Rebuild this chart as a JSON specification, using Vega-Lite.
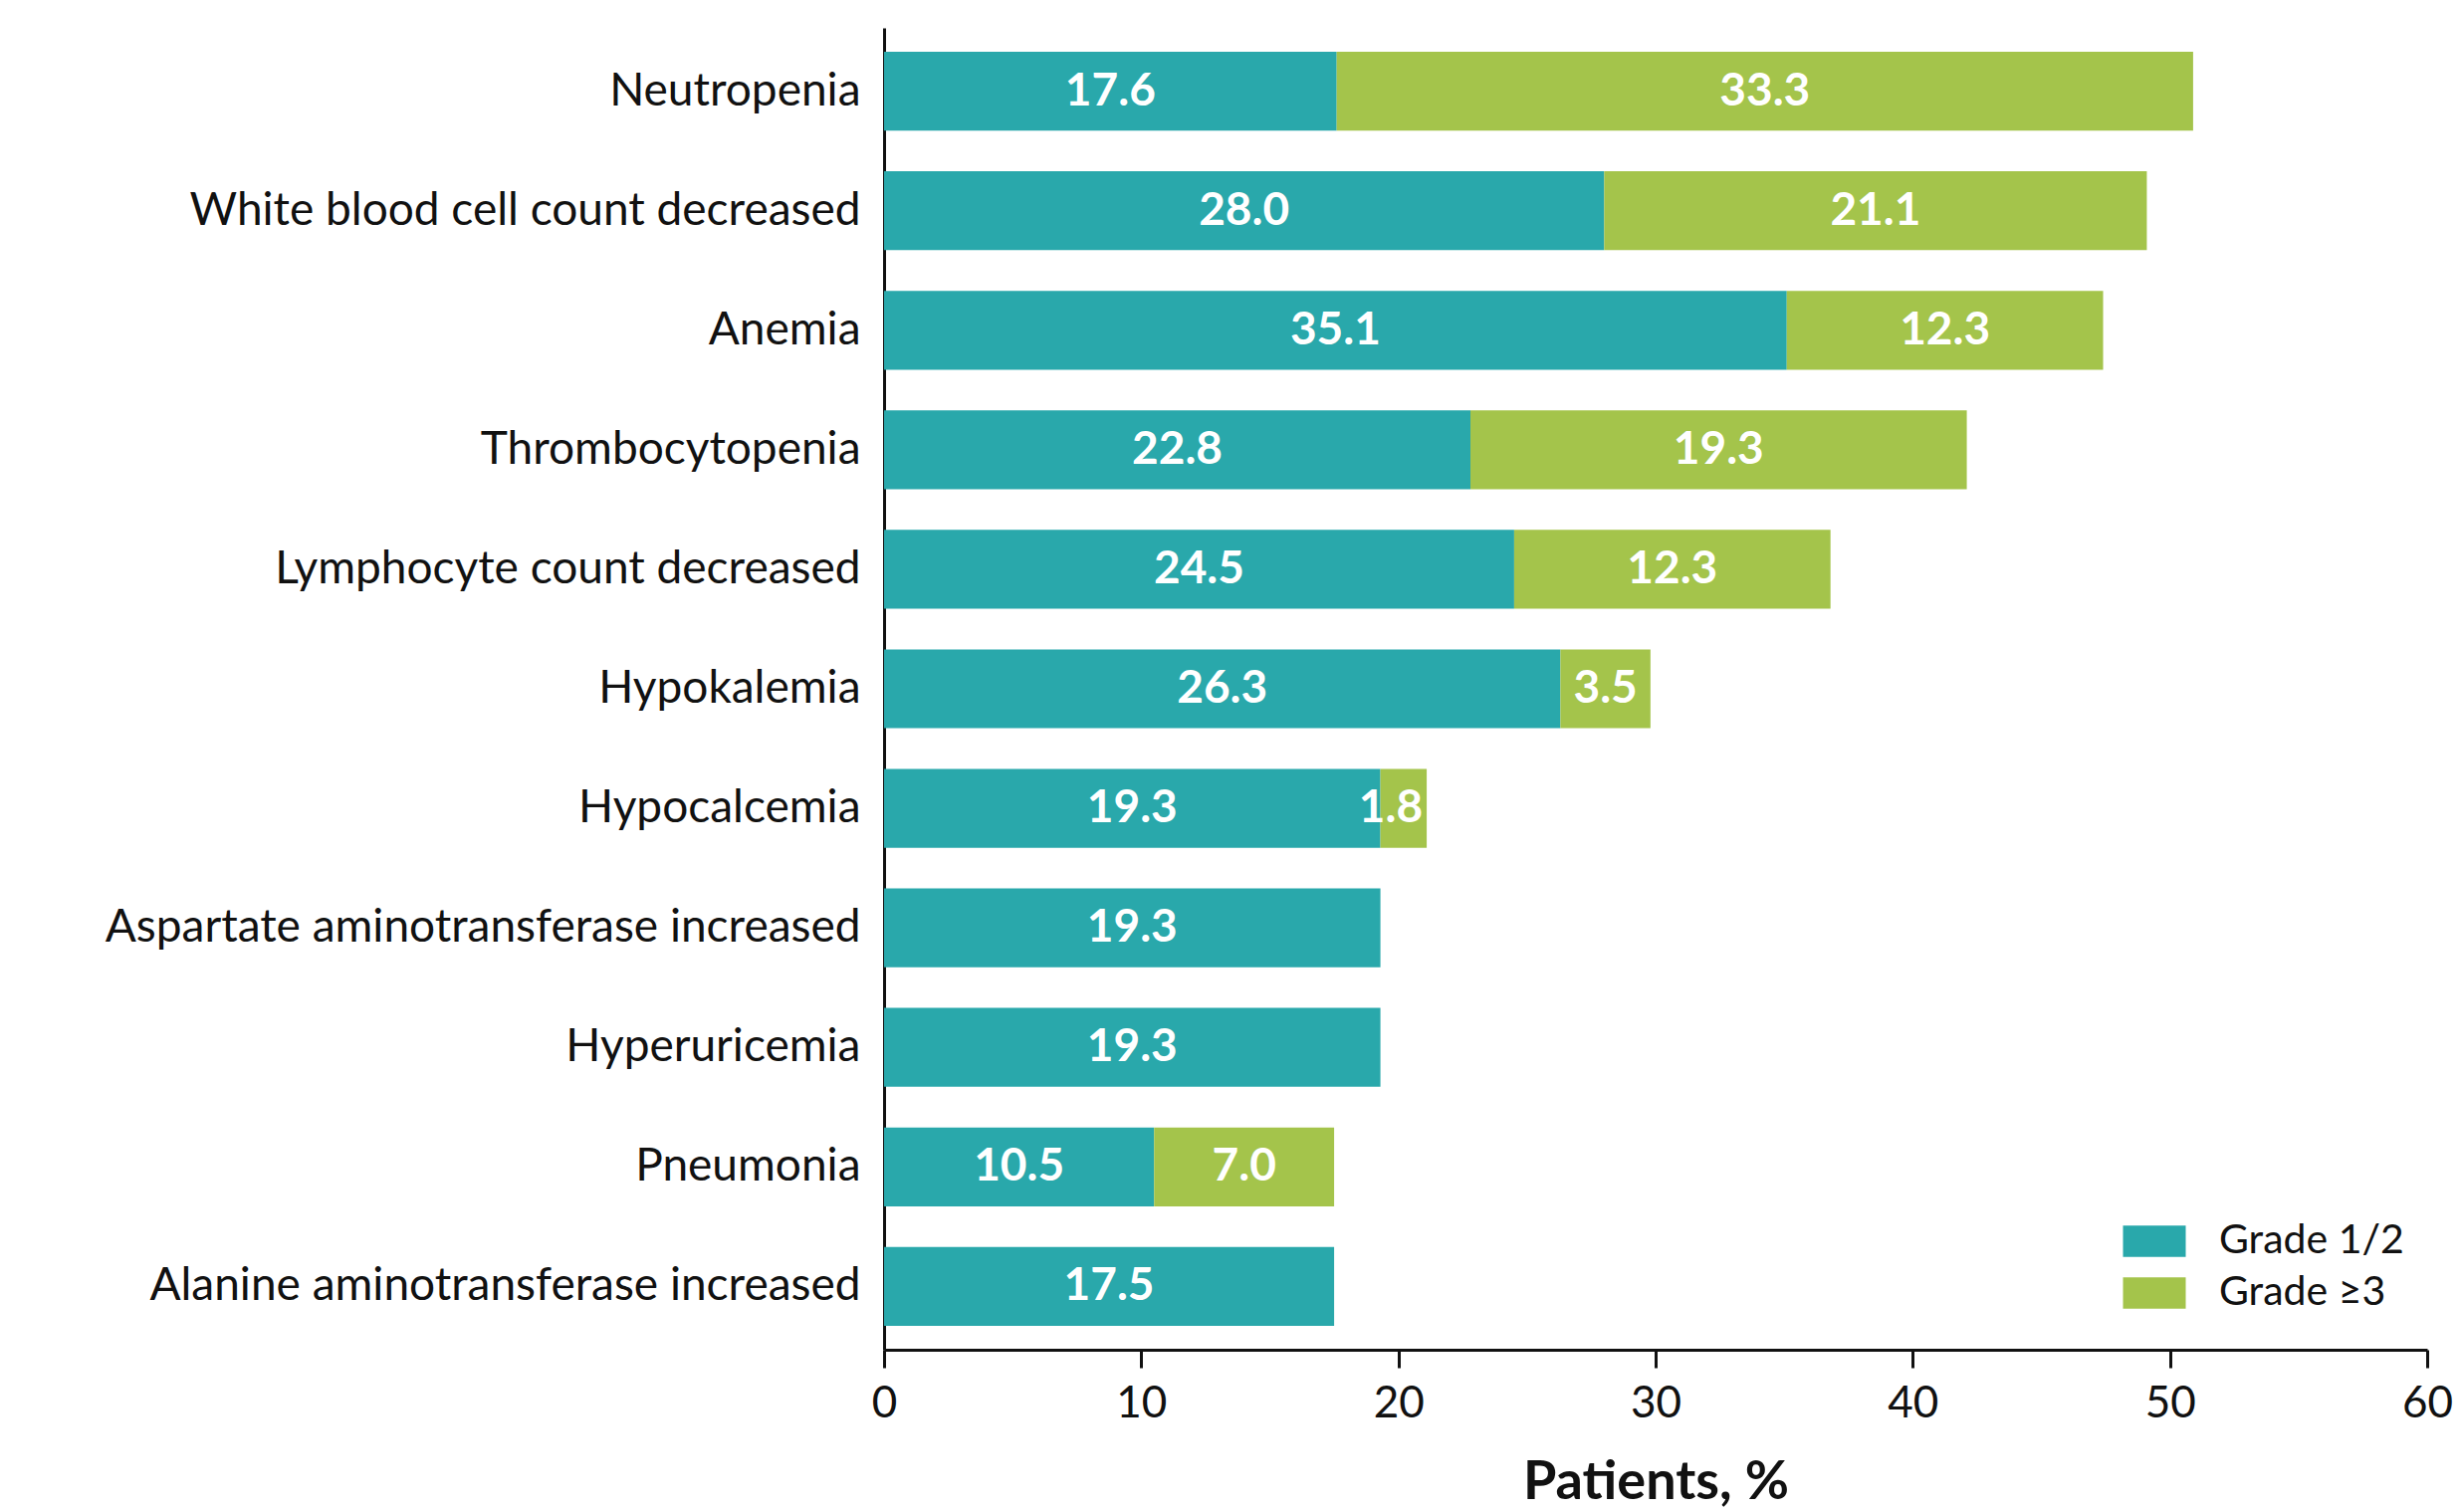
{
  "$schema": "https://vega.github.io/schema/vega-lite/v6.json",
  "autosize": {"type": "none"},
  "padding": {"left": 888, "top": 28, "right": 35, "bottom": 163},
  "width": 1550,
  "height": 1328,
  "background": "white",
  "config": {
    "view": {"stroke": null},
    "font": "Lato",
    "axis": {"labelFont": "Lato", "titleFont": "Lato", "labelColor": "#111111", "titleColor": "#111111"}
  },
  "data": {
    "values": [
      {"event": "Neutropenia", "grade": "Grade 1/2", "rank": 1, "pct": 17.6},
      {"event": "Neutropenia", "grade": "Grade ≥3", "rank": 2, "pct": 33.3},
      {"event": "White blood cell count decreased", "grade": "Grade 1/2", "rank": 1, "pct": 28.0},
      {"event": "White blood cell count decreased", "grade": "Grade ≥3", "rank": 2, "pct": 21.1},
      {"event": "Anemia", "grade": "Grade 1/2", "rank": 1, "pct": 35.1},
      {"event": "Anemia", "grade": "Grade ≥3", "rank": 2, "pct": 12.3},
      {"event": "Thrombocytopenia", "grade": "Grade 1/2", "rank": 1, "pct": 22.8},
      {"event": "Thrombocytopenia", "grade": "Grade ≥3", "rank": 2, "pct": 19.3},
      {"event": "Lymphocyte count decreased", "grade": "Grade 1/2", "rank": 1, "pct": 24.5},
      {"event": "Lymphocyte count decreased", "grade": "Grade ≥3", "rank": 2, "pct": 12.3},
      {"event": "Hypokalemia", "grade": "Grade 1/2", "rank": 1, "pct": 26.3},
      {"event": "Hypokalemia", "grade": "Grade ≥3", "rank": 2, "pct": 3.5},
      {"event": "Hypocalcemia", "grade": "Grade 1/2", "rank": 1, "pct": 19.3},
      {"event": "Hypocalcemia", "grade": "Grade ≥3", "rank": 2, "pct": 1.8},
      {"event": "Aspartate aminotransferase increased", "grade": "Grade 1/2", "rank": 1, "pct": 19.3},
      {"event": "Hyperuricemia", "grade": "Grade 1/2", "rank": 1, "pct": 19.3},
      {"event": "Pneumonia", "grade": "Grade 1/2", "rank": 1, "pct": 10.5},
      {"event": "Pneumonia", "grade": "Grade ≥3", "rank": 2, "pct": 7.0},
      {"event": "Alanine aminotransferase increased", "grade": "Grade 1/2", "rank": 1, "pct": 17.5}
    ]
  },
  "transform": [
    {"stack": "pct", "groupby": ["event"], "sort": [{"field": "rank", "order": "ascending"}], "as": ["x0", "x1"]},
    {"calculate": "(datum.x0 + datum.x1) / 2", "as": "xmid"}
  ],
  "encoding": {
    "y": {
      "field": "event",
      "type": "nominal",
      "sort": [
        "Neutropenia",
        "White blood cell count decreased",
        "Anemia",
        "Thrombocytopenia",
        "Lymphocyte count decreased",
        "Hypokalemia",
        "Hypocalcemia",
        "Aspartate aminotransferase increased",
        "Hyperuricemia",
        "Pneumonia",
        "Alanine aminotransferase increased"
      ],
      "scale": {"paddingInner": 0.34, "paddingOuter": 0.2},
      "axis": {
        "title": null,
        "ticks": false,
        "domainColor": "#111111",
        "domainWidth": 3,
        "labelFontSize": 46,
        "labelPadding": 24,
        "labelLimit": 900
      }
    }
  },
  "layer": [
    {
      "mark": {"type": "bar"},
      "encoding": {
        "x": {
          "field": "x0",
          "type": "quantitative",
          "scale": {"domain": [0, 60], "nice": false},
          "axis": {
            "title": "Patients, %",
            "values": [0, 10, 20, 30, 40, 50, 60],
            "grid": false,
            "labelFlush": false,
            "domainColor": "#111111",
            "domainWidth": 3,
            "tickColor": "#111111",
            "tickWidth": 3,
            "tickSize": 18,
            "labelFontSize": 44,
            "labelPadding": 14,
            "titleFontSize": 54,
            "titleFontWeight": "bold",
            "titlePadding": 30
          }
        },
        "x2": {"field": "x1"},
        "color": {
          "field": "grade",
          "type": "nominal",
          "scale": {"domain": ["Grade 1/2", "Grade ≥3"], "range": ["#29A8AB", "#A4C44B"]},
          "legend": {
            "title": null,
            "orient": "none",
            "legendX": 1244,
            "legendY": 1187,
            "symbolType": "M-1,-0.5H1V0.5H-1Z",
            "symbolSize": 3970,
            "symbolStrokeWidth": 0,
            "symbolOpacity": 1,
            "labelFontSize": 41,
            "labelLimit": 400,
            "labelColor": "#111111",
            "labelOffset": 33,
            "rowPadding": -9
          }
        }
      }
    },
    {
      "transform": [{"filter": "datum.pct >= 2"}],
      "mark": {"type": "text", "color": "white", "fontSize": 46, "fontWeight": "bold", "align": "center", "baseline": "middle"},
      "encoding": {
        "x": {"field": "xmid", "type": "quantitative"},
        "text": {"field": "pct", "type": "quantitative", "format": ".1f"}
      }
    },
    {
      "transform": [{"filter": "datum.pct < 2"}],
      "mark": {"type": "text", "color": "white", "fontSize": 46, "fontWeight": "bold", "align": "right", "baseline": "middle", "dx": -4},
      "encoding": {
        "x": {"field": "x1", "type": "quantitative"},
        "text": {"field": "pct", "type": "quantitative", "format": ".1f"}
      }
    }
  ]
}
